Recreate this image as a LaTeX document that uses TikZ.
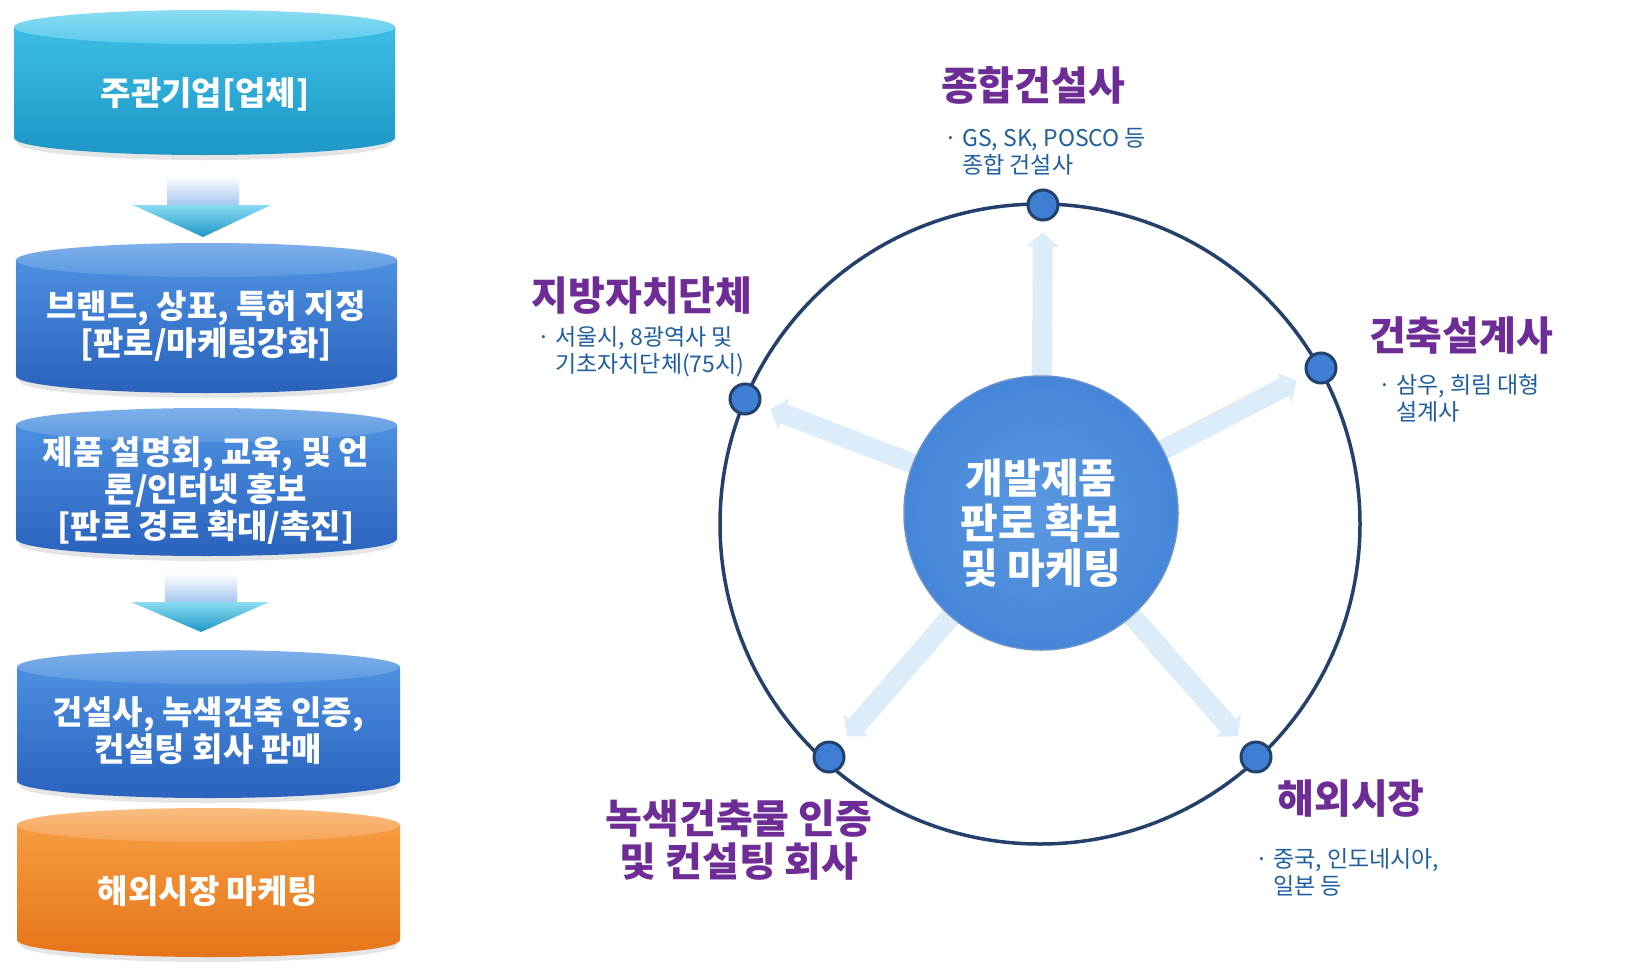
\documentclass[tikz,border=0pt]{standalone}
\usepackage{fontspec}
\setmainfont{Noto Sans CJK KR}
\usetikzlibrary{arrows.meta,backgrounds}
\definecolor{ttlc}{HTML}{6E2C96}
\definecolor{subc}{HTML}{1F5F9F}
\definecolor{ringc}{HTML}{24416B}
\definecolor{dotc}{HTML}{3F7FD3}
\definecolor{arrc}{HTML}{DCEDF9}
\definecolor{cyA}{HTML}{3CBDE4}
\definecolor{cyB}{HTML}{1E96C6}
\definecolor{cyL1}{HTML}{8ADCF2}
\definecolor{cyL2}{HTML}{5CCAEB}
\definecolor{blA}{HTML}{4C8FE0}
\definecolor{blB}{HTML}{2A62BC}
\definecolor{blL1}{HTML}{7EB0EA}
\definecolor{blL2}{HTML}{5C98E0}
\definecolor{orA}{HTML}{F79C40}
\definecolor{orB}{HTML}{E5741A}
\definecolor{orL1}{HTML}{F9BD80}
\definecolor{orL2}{HTML}{F6A458}
\newcommand\drum[8]{%
  \pgfmathsetmacro\dcx{(#1+#2)/2}%
  \pgfmathsetmacro\drx{(#2-#1)/2}%
  \fill[black,opacity=0.10] (#1+3,#3+22) -- (#1+3,#4-12) arc[start angle=180,end angle=360,x radius=\drx pt - 3pt,y radius=17pt] -- (#2-3,#3+22) -- cycle;
  \shade[top color=#5,bottom color=#6] (#1,#3+17) -- (#1,#4-17) arc[start angle=180,end angle=360,x radius=\drx pt,y radius=17pt] -- (#2,#3+17) -- cycle;
  \shade[top color=#7,bottom color=#8] (\dcx,#3+17) ellipse [x radius=\drx pt,y radius=17pt];
}
\newcommand\blockarrow[4]{% cx, y top, y join, y tip
  \shade[top color=white,bottom color=blL1!70] (#1-36,#2) rectangle (#1+36,#3);
  \shade[top color=cyL1,bottom color=cyB] (#1-70,#3) -- (#1+68,#3) -- (#1,#4) -- cycle;
}
\begin{document}
\begin{tikzpicture}[x=1pt,y=-1pt,
  cyltext/.style={text=white,font=\fontsize{33}{37}\selectfont\bfseries,align=center,inner sep=0},
  ttl/.style={text=ttlc,font=\fontsize{40}{43}\selectfont\bfseries,align=center,inner sep=0},
  subtxt/.style={text=subc,font=\fontsize{23}{27}\selectfont,align=left,inner sep=0,anchor=west},
  dot/.style={circle,fill=dotc,draw=ringc,line width=3pt,minimum size=30pt,inner sep=0},
  bigarrow/.style={line width=20pt,draw=arrc,-{Triangle[width=32pt,length=14pt]},shorten >=11pt,shorten <=-8pt}]
\begin{pgfonlayer}{background}
\fill[white] (0,0) rectangle (1631,972);
\end{pgfonlayer}
% left column
\drum{14}{395}{10}{155}{cyA}{cyB}{cyL1}{cyL2}
\node[cyltext] (c1) at (205,94) {주관기업{[}업체{]}};
\blockarrow{203}{176}{205}{237}
\drum{16}{397}{243}{393}{blA}{blB}{blL1}{blL2}
\node[cyltext] (c2) at (206,326) {브랜드, 상표, 특허 지정\\ {[}판로/마케팅강화{]}};
\drum{16}{397}{408}{556}{blA}{blB}{blL1}{blL2}
\node[cyltext] (c3) at (206,491) {제품 설명회, 교육, 및 언\\론/인터넷 홍보\\ {[}판로 경로 확대/촉진{]}};
\blockarrow{201}{573}{602}{632}
\drum{17}{400}{650}{798}{blA}{blB}{blL1}{blL2}
\node[cyltext] (c4) at (208,731) {건설사, 녹색건축 인증,\\컨설팅 회사 판매};
\drum{17}{400}{808}{957}{orA}{orB}{orL1}{orL2}
\node[cyltext] (c5) at (208,891) {해외시장 마케팅};
% right diagram
\node[circle,draw=ringc,line width=3.5pt,minimum size=640pt,inner sep=0] (ring) at (1040,524) {};
\node[circle,inner sep=0,minimum size=274pt,inner color=blL2,outer color=blA!80!blB,draw=blB!70,line width=1.5pt] (center) at (1041,513) {};
\node[text=white,font=\fontsize{41}{45}\selectfont\bfseries,align=center,inner sep=0] (ctext) at (1041,523) {개발제품\\판로 확보\\및 마케팅};
\node[dot] (dT) at (1043,205) {};
\node[dot] (dR) at (1321,368) {};
\node[dot] (dL) at (745,399) {};
\node[dot] (dBL) at (829,757) {};
\node[dot] (dBR) at (1256,757) {};
\begin{pgfonlayer}{background}
\draw[bigarrow] (center) -- (dT);
\draw[bigarrow] (center) -- (dR);
\draw[bigarrow] (center) -- (dL);
\draw[bigarrow] (center) -- (dBL);
\draw[bigarrow] (center) -- (dBR);
\end{pgfonlayer}
\node[ttl] (lT) at (1033,85) {종합건설사};
\node[subtxt] (sT) at (944,152) {· GS, SK, POSCO 등\\\phantom{· }종합 건설사};
\node[ttl] (lL) at (642,296) {지방자치단체};
\node[subtxt] (sL) at (537,352) {· 서울시, 8광역사 및\\\phantom{· }기초자치단체(75시)};
\node[ttl] (lR) at (1461,336) {건축설계사};
\node[subtxt] (sR) at (1378,398) {· 삼우, 희림 대형\\\phantom{· }설계사};
\node[ttl] (lBL) at (739,840) {녹색건축물 인증\\및 컨설팅 회사};
\node[ttl] (lBR) at (1351,799) {해외시장};
\node[subtxt] (sBR) at (1255,872) {· 중국, 인도네시아,\\\phantom{· }일본 등};
\end{tikzpicture}
\end{document}
